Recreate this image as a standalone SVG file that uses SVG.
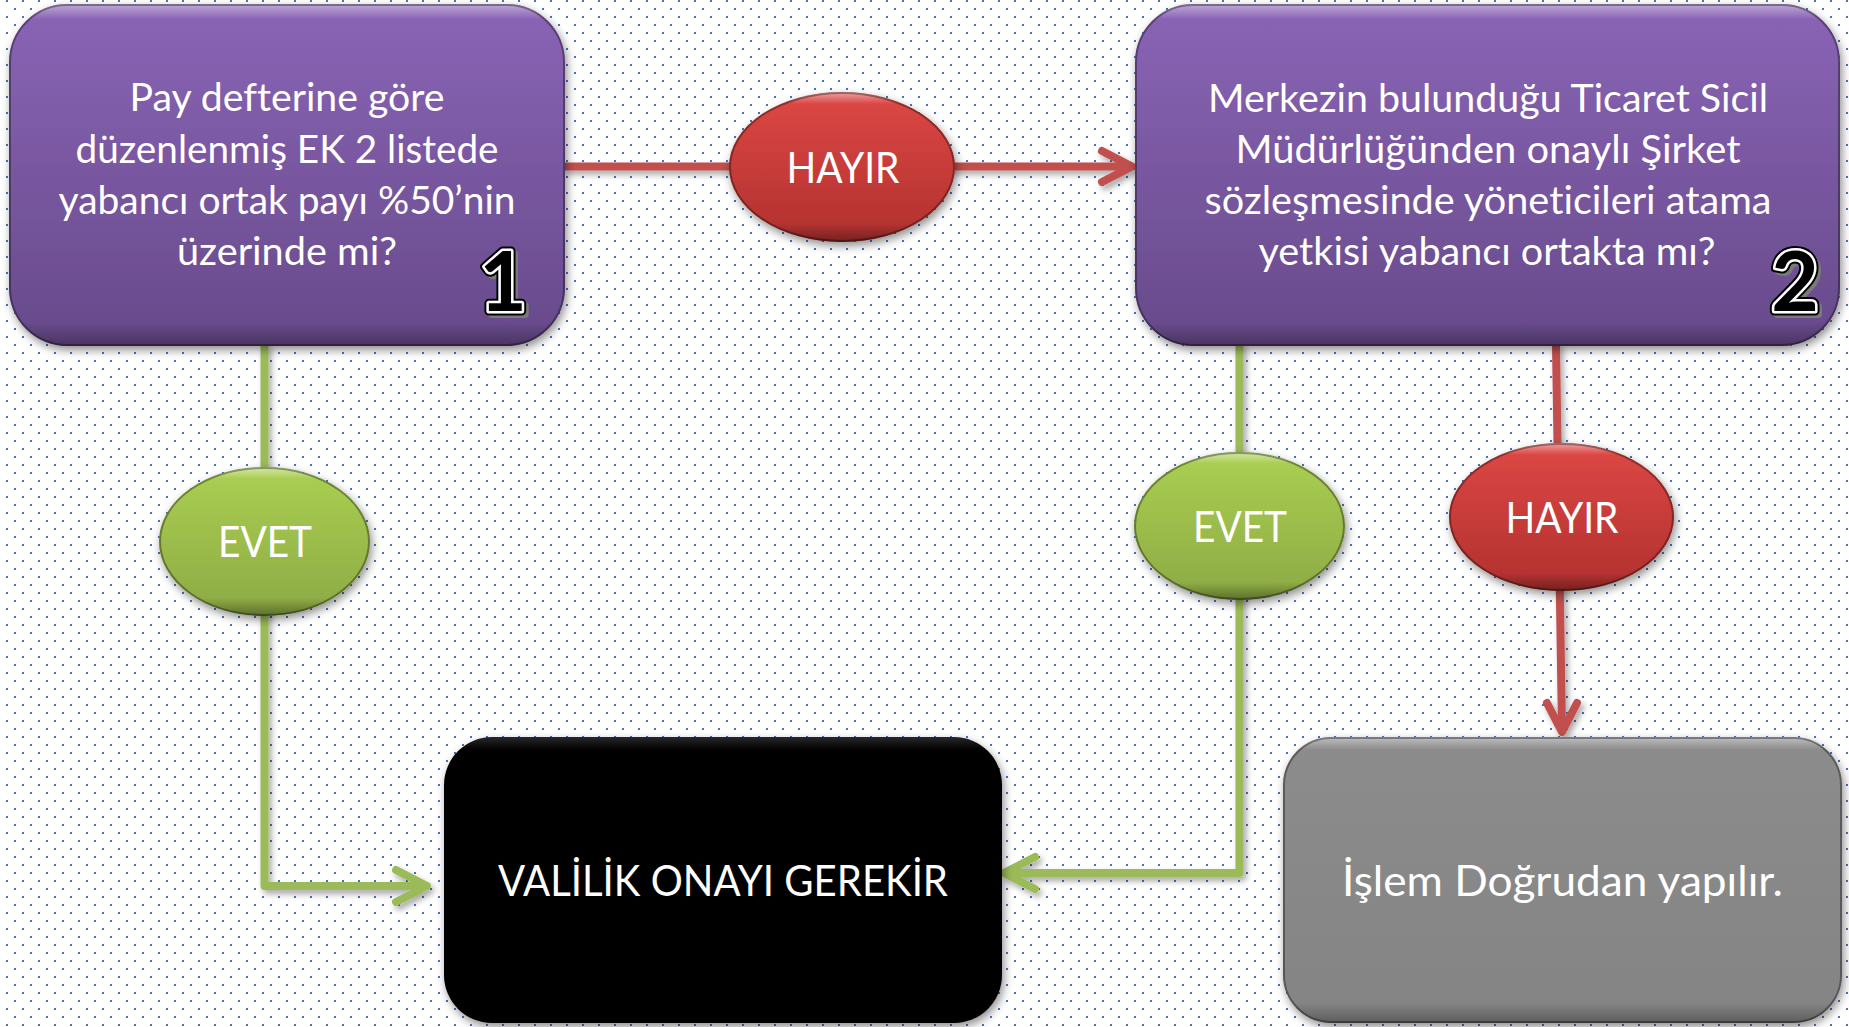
<svg xmlns="http://www.w3.org/2000/svg" width="1849" height="1027" viewBox="0 0 1849 1027">
<defs>
<style>
.t{font-family:Lato,"Open Sans","DejaVu Sans",sans-serif;fill:#fff;text-anchor:middle;font-variant-ligatures:none}
.q{font-size:39px}
.b{font-size:43px}
.num{font-family:Lato,"DejaVu Sans",sans-serif;font-weight:700;font-size:82px;text-anchor:middle}
.red{stroke:#C0504D;stroke-width:8;fill:none;stroke-linecap:round;stroke-linejoin:round}
.green{stroke:#9BBB59;stroke-width:8;fill:none;stroke-linecap:round;stroke-linejoin:round}
.rim{fill:none;stroke:#000;stroke-opacity:0.35;stroke-width:2}
</style>
<pattern id="dots" width="16" height="16" patternUnits="userSpaceOnUse">
<rect x="6" y="0" width="2" height="2" fill="#4675B8"/>
<rect x="14" y="8" width="2" height="2" fill="#4675B8"/>
</pattern>
<linearGradient id="gPurple" x1="0" y1="0" x2="0" y2="1">
<stop offset="0" stop-color="#8A64B6"/><stop offset="1" stop-color="#674A8A"/>
</linearGradient>
<linearGradient id="gGray" x1="0" y1="0" x2="0" y2="1">
<stop offset="0" stop-color="#8c8c8c"/><stop offset="1" stop-color="#848484"/>
</linearGradient>
<linearGradient id="gRed" x1="0" y1="0" x2="0" y2="1">
<stop offset="0" stop-color="#DE4845"/><stop offset="1" stop-color="#B0302E"/>
</linearGradient>
<linearGradient id="gGreen" x1="0" y1="0" x2="0" y2="1">
<stop offset="0" stop-color="#ABD052"/><stop offset="1" stop-color="#8CA944"/>
</linearGradient>
<linearGradient id="gBevel" x1="0" y1="0" x2="0" y2="1">
<stop offset="0" stop-color="#fff" stop-opacity="0.45"/>
<stop offset="0.045" stop-color="#fff" stop-opacity="0"/>
<stop offset="0.93" stop-color="#000" stop-opacity="0"/>
<stop offset="1" stop-color="#000" stop-opacity="0.3"/>
</linearGradient>
<linearGradient id="gBevelE" x1="0" y1="0" x2="0" y2="1">
<stop offset="0" stop-color="#fff" stop-opacity="0.5"/>
<stop offset="0.08" stop-color="#fff" stop-opacity="0"/>
<stop offset="0.88" stop-color="#000" stop-opacity="0"/>
<stop offset="1" stop-color="#000" stop-opacity="0.35"/>
</linearGradient>
<filter id="sh" x="-10%" y="-10%" width="125%" height="130%">
<feDropShadow dx="2" dy="4" stdDeviation="5" flood-color="#000" flood-opacity="0.45"/>
</filter>
<filter id="lsh" x="-10%" y="-10%" width="130%" height="130%">
<feDropShadow dx="3" dy="4" stdDeviation="3" flood-color="#000" flood-opacity="0.35"/>
</filter>
</defs>

<rect width="1849" height="1027" fill="#fff"/>
<rect width="1849" height="1027" fill="url(#dots)"/>

<g id="connectors">
<g filter="url(#lsh)">
<path class="red" d="M565,166.5 H1130"/>
<path class="red" d="M1102,151 L1132,166.5 L1102,182"/>
<path class="green" d="M264.5,346 V886 H426"/>
<path class="green" d="M396,870 L427,886 L396,902"/>
<path class="green" d="M1239.5,346 V873 H1006"/>
<path class="green" d="M1035,857 L1004,873 L1035,889"/>
<path class="red" d="M1556,346 L1562,730"/>
<path class="red" d="M1547,703 L1562,732 L1577,703"/>
</g>
</g>

<g id="node1">
<rect x="9" y="4" width="556" height="342" rx="58" fill="url(#gPurple)" filter="url(#sh)"/>
<rect x="9" y="4" width="556" height="342" rx="58" fill="url(#gBevel)"/>
<rect x="10" y="5" width="554" height="340" rx="57" class="rim" stroke-opacity="0.2"/>
<text class="t q" x="287" y="111" textLength="315" lengthAdjust="spacingAndGlyphs">Pay defterine göre</text>
<text class="t q" x="287" y="163" textLength="423" lengthAdjust="spacingAndGlyphs">düzenlenmiş EK 2 listede</text>
<text class="t q" x="287" y="214" textLength="457" lengthAdjust="spacingAndGlyphs">yabancı ortak payı %50’nin</text>
<text class="t q" x="287" y="265" textLength="220" lengthAdjust="spacingAndGlyphs">üzerinde mi?</text>
<text class="num" x="506" y="314" fill="#7a7a7a" stroke="#7a7a7a" stroke-width="8" stroke-linejoin="round">1</text>
<text class="num" x="503" y="311" fill="none" stroke="#000" stroke-width="9" stroke-linejoin="round">1</text>
<text class="num" x="503" y="311" fill="#000" stroke="#fff" stroke-width="5" stroke-linejoin="round" paint-order="stroke">1</text>
</g>

<g id="node2">
<rect x="1135" y="4" width="705" height="342" rx="58" fill="url(#gPurple)" filter="url(#sh)"/>
<rect x="1135" y="4" width="705" height="342" rx="58" fill="url(#gBevel)"/>
<rect x="1136" y="5" width="703" height="340" rx="57" class="rim" stroke-opacity="0.2"/>
<text class="t q" x="1488" y="112" textLength="560" lengthAdjust="spacingAndGlyphs">Merkezin bulunduğu Ticaret Sicil</text>
<text class="t q" x="1488" y="163" textLength="505" lengthAdjust="spacingAndGlyphs">Müdürlüğünden onaylı Şirket</text>
<text class="t q" x="1488" y="214" textLength="567" lengthAdjust="spacingAndGlyphs">sözleşmesinde yöneticileri atama</text>
<text class="t q" x="1487" y="265" textLength="457" lengthAdjust="spacingAndGlyphs">yetkisi yabancı ortakta mı?</text>
<text class="num" x="1798" y="314" fill="#7a7a7a" stroke="#7a7a7a" stroke-width="8" stroke-linejoin="round">2</text>
<text class="num" x="1795" y="311" fill="none" stroke="#000" stroke-width="9" stroke-linejoin="round">2</text>
<text class="num" x="1795" y="311" fill="#000" stroke="#fff" stroke-width="5" stroke-linejoin="round" paint-order="stroke">2</text>
</g>

<g id="hayir1">
<ellipse cx="842" cy="167" rx="113" ry="75" fill="url(#gRed)" filter="url(#sh)"/>
<ellipse cx="842" cy="167" rx="113" ry="75" fill="url(#gBevelE)"/>
<ellipse cx="842" cy="167" rx="112" ry="74" class="rim"/>
<text class="t b" x="843" y="183" textLength="113" lengthAdjust="spacingAndGlyphs">HAYIR</text>
</g>

<g id="evet1">
<ellipse cx="264.5" cy="541.5" rx="105.5" ry="74.5" fill="url(#gGreen)" filter="url(#sh)"/>
<ellipse cx="264.5" cy="541.5" rx="105.5" ry="74.5" fill="url(#gBevelE)"/>
<ellipse cx="264.5" cy="541.5" rx="104.5" ry="73.5" class="rim"/>
<text class="t b" x="265" y="557" textLength="94" lengthAdjust="spacingAndGlyphs">EVET</text>
</g>

<g id="evet2">
<ellipse cx="1239.5" cy="526" rx="105.5" ry="74" fill="url(#gGreen)" filter="url(#sh)"/>
<ellipse cx="1239.5" cy="526" rx="105.5" ry="74" fill="url(#gBevelE)"/>
<ellipse cx="1239.5" cy="526" rx="104.5" ry="73" class="rim"/>
<text class="t b" x="1240" y="542" textLength="94" lengthAdjust="spacingAndGlyphs">EVET</text>
</g>

<g id="hayir2">
<ellipse cx="1561.5" cy="517" rx="112.5" ry="74" fill="url(#gRed)" filter="url(#sh)"/>
<ellipse cx="1561.5" cy="517" rx="112.5" ry="74" fill="url(#gBevelE)"/>
<ellipse cx="1561.5" cy="517" rx="111.5" ry="73" class="rim"/>
<text class="t b" x="1562" y="533" textLength="113" lengthAdjust="spacingAndGlyphs">HAYIR</text>
</g>

<g id="valilik">
<rect x="444" y="737" width="558" height="286" rx="48" fill="#000" filter="url(#sh)"/>
<rect x="444" y="737" width="558" height="286" rx="48" fill="url(#gBevel)" opacity="0.35"/>
<text class="t b" x="723" y="896" textLength="450" lengthAdjust="spacingAndGlyphs">VALİLİK ONAYI GEREKİR</text>
</g>

<g id="islem">
<rect x="1283" y="737" width="559" height="286" rx="48" fill="url(#gGray)" filter="url(#sh)"/>
<rect x="1283" y="737" width="559" height="286" rx="48" fill="url(#gBevel)"/>
<rect x="1284" y="738" width="557" height="284" rx="47" class="rim" stroke-opacity="0.2"/>
<text class="t b" x="1562.5" y="896" textLength="441" lengthAdjust="spacingAndGlyphs">İşlem Doğrudan yapılır.</text>
</g>
</svg>
